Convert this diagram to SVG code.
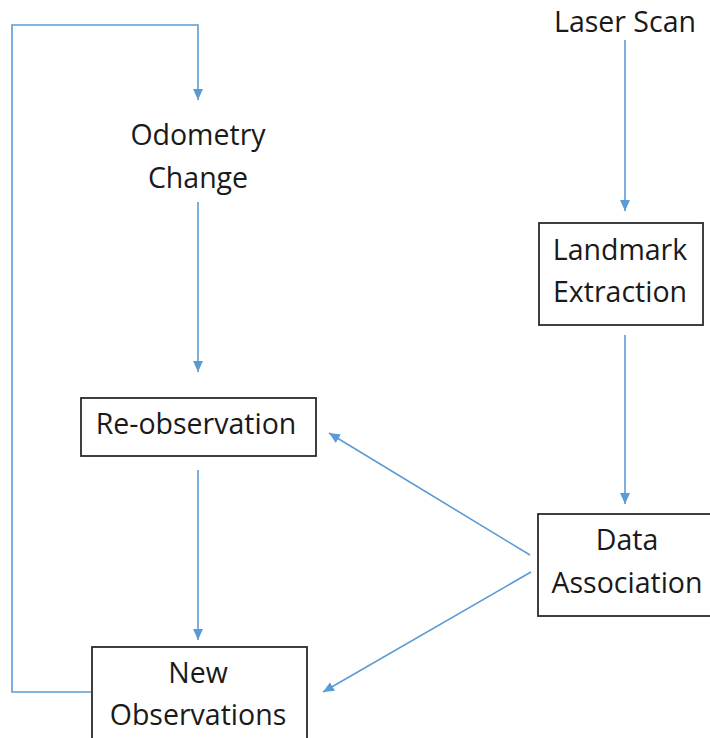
<svg xmlns="http://www.w3.org/2000/svg" width="710" height="738" viewBox="0 0 710 738">
  <style>
    .box { fill: #ffffff; stroke: #2b2b2b; stroke-width: 1.8; }
    .lbl { font-family: "Open Sans", "Noto Sans", sans-serif; font-size: 28.5px; fill: #1a1a1a; text-anchor: middle; }
    .wire { fill: none; stroke: #5b9bd5; stroke-width: 1.6; marker-end: url(#tip); }
  </style>
  <defs>
    <marker id="tip" viewBox="0 0 10 10" refX="10" refY="5" markerWidth="11" markerHeight="11" markerUnits="userSpaceOnUse" orient="auto">
      <path d="M0,0.5 L10,5 L0,9.5 Z" fill="#5b9bd5"/>
    </marker>
  </defs>
  <rect width="710" height="738" fill="#ffffff"/>

  <!-- flow arrows -->
  <g id="connectors">
    <path class="wire" d="M625,40 V211"/>
    <path class="wire" d="M625,335 V504"/>
    <path class="wire" d="M198,202 V372"/>
    <path class="wire" d="M198,470 V640"/>
    <path class="wire" d="M530,555 L329,433"/>
    <path class="wire" d="M531,572 L323,692"/>
    <path class="wire" d="M91,692 H12 V25 H198 V100"/>
  </g>

  <g id="laser-scan">
    <text class="lbl" x="625" y="32">Laser Scan</text>
  </g>

  <g id="odometry-change">
    <text class="lbl" x="198" y="145">Odometry</text>
    <text class="lbl" x="198" y="188">Change</text>
  </g>

  <g id="landmark-extraction">
    <rect class="box" x="539" y="223" width="164" height="102"/>
    <text class="lbl" x="620" y="260">Landmark</text>
    <text class="lbl" x="620" y="302">Extraction</text>
  </g>

  <g id="re-observation">
    <rect class="box" x="81" y="398" width="235" height="58"/>
    <text class="lbl" x="196" y="434">Re-observation</text>
  </g>

  <g id="data-association">
    <rect class="box" x="538" y="514" width="180" height="102"/>
    <text class="lbl" x="627" y="550">Data</text>
    <text class="lbl" x="627" y="593">Association</text>
  </g>

  <g id="new-observations">
    <rect class="box" x="92" y="647" width="215" height="100"/>
    <text class="lbl" x="198" y="683">New</text>
    <text class="lbl" x="198" y="725">Observations</text>
  </g>
</svg>
